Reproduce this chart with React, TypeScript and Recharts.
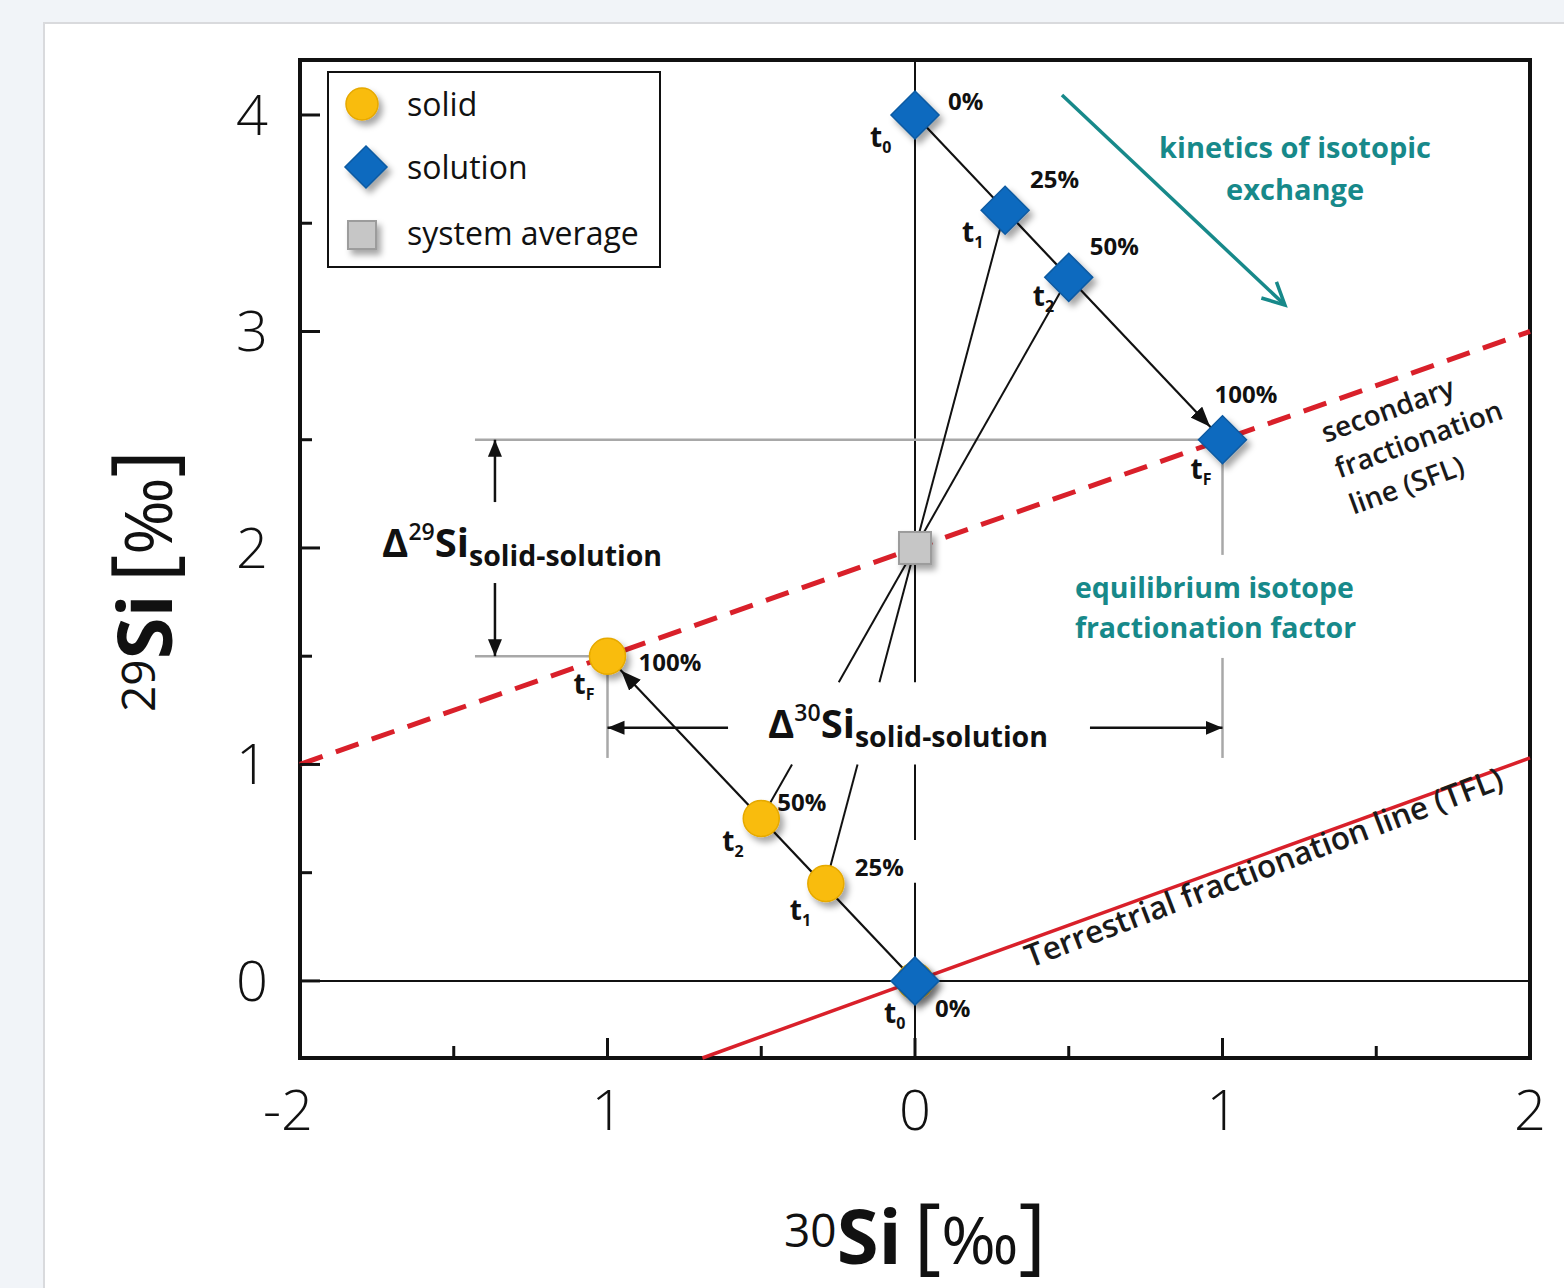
import { ScatterChart, Scatter, XAxis, YAxis, ReferenceLine, ReferenceArea, Legend } from "recharts";

// axis ranges and ticks
const X_DOMAIN: [number, number] = [-2, 2];
const Y_DOMAIN: [number, number] = [-0.356, 4.254];
const xTicks = [-2, -1.5, -1, -0.5, 0, 0.5, 1, 1.5, 2];
const xTickLabels = ["-2", "", "1", "", "0", "", "1", "", "2"];
const yTicks = [0, 0.5, 1, 1.5, 2, 2.5, 3, 3.5, 4];
const yTickLabels = ["0", "", "1", "", "2", "", "3", "", "4"];

// solution (diamonds) and solid (circles) trajectories
const solutionX = [0, 0.293, 0.5, 1.0];
const solutionY = [4.0, 3.56, 3.25, 2.5];
const solidX = [0, -0.29, -0.5, -1.0];
const solidY = [0, 0.45, 0.75, 1.5];
const exchanged = ["0%", "25%", "50%", "100%"];
const timeSteps = ["0", "1", "2", "F"];
const startPoint = [{ x: 0, y: 0, pct: "0%", t: "0", i: 0 }];
const systemAverage = [{ x: 0, y: 2 }];

// fractionation lines
const sflIntercept = 2;
const sflSlope = 0.5;
const tflSlope = 0.515;

const solutionData = solutionX.map((x, i) => ({ x, y: solutionY[i], pct: exchanged[i], t: timeSteps[i], i }));
const solidData = solidX.map((x, i) => ({ x, y: solidY[i], pct: exchanged[i], t: timeSteps[i], i }));

// label offsets (px) from marker centre: [dx, dy] for the % label and the t label
const SOLUTION_LABEL_POS = [
  { pct: [33, -5], t: [-45, 32] },
  { pct: [25, -22], t: [-43, 32] },
  { pct: [21, -22], t: [-36, 29] },
  { pct: [-8, -37], t: [-32, 39] },
];
const SOLID_LABEL_POS = [
  null,
  { pct: [29, -8], t: [-36, 36] },
  { pct: [16, -8], t: [-39, 32] },
  { pct: [31, 15], t: [-34, 38] },
];
const START_LABEL_POS = [{ pct: [20, 36], t: [-31, 42] }];

// annotation anchors in data units
const annotations = [
  { id: "kinetics", x: 1.236, y: 3.801 },
  { id: "equilibrium", x: 0.52, y: 1.769 },
  { id: "sfl", x: 1.639, y: 2.499 },
  { id: "tfl", x: 0.374, y: 0.06 },
  { id: "d29", x: -1.733, y: 1.958 },
  { id: "d30", x: -0.478, y: 1.122 },
];

const FONT = "'Open Sans', 'Noto Sans', sans-serif";
const TEAL = "#17898a";
const RED = "#d9202a";
const BLUE = "#0a6bbf";
const GOLD = "#f9bc0b";
const GRAY = "#a8a8a8";

type P = { x: number; y: number };

// split a segment into pieces, leaving gaps over the given y ranges
function splitSegment(a: P, b: P, gaps: [number, number][]) {
  const cuts = gaps
    .map(([lo, hi]) => {
      const t1 = (lo - a.y) / (b.y - a.y);
      const t2 = (hi - a.y) / (b.y - a.y);
      return [Math.max(0, Math.min(t1, t2)), Math.min(1, Math.max(t1, t2))];
    })
    .filter(([s, e]) => e > s)
    .sort((p, q) => p[0] - q[0]);
  const out: [number, number][] = [];
  let start = 0;
  for (const [s, e] of cuts) {
    if (s > start) out.push([start, s]);
    start = Math.max(start, e);
  }
  if (start < 1) out.push([start, 1]);
  const at = (t: number) => ({ x: a.x + t * (b.x - a.x), y: a.y + t * (b.y - a.y) });
  return out.map(([s, e]) => [at(s), at(e)]);
}

const labelGap: [number, number] = [1.0, 1.38];
const zeroLinePieces = splitSegment({ x: 0, y: Y_DOMAIN[1] }, { x: 0, y: Y_DOMAIN[0] }, [labelGap, [0.453, 0.651]]);
const tieLinePieces = [1, 2].flatMap((i) =>
  splitSegment({ x: solutionX[i], y: solutionY[i] }, { x: solidX[i], y: solidY[i] }, [labelGap])
);
const grayX1Pieces = splitSegment({ x: 1, y: 2.5 }, { x: 1, y: 1.03 }, [[1.492, 1.968]]);

const TimeLabel = ({ x, y, sub }: any) => (
  <text x={x} y={y} fontFamily={FONT} fontWeight={700} fontSize={28} fill="#111">
    t<tspan fontSize={16} dy={6}>{sub}</tspan>
  </text>
);

const PctLabel = ({ x, y, text }: any) => (
  <text x={x} y={y} fontFamily={FONT} fontWeight={700} fontSize={24} fill="#111">
    {text}
  </text>
);

const PointLabels = ({ cx, cy, payload, pos }: any) =>
  pos ? (
    <g>
      <PctLabel x={cx + pos.pct[0]} y={cy + pos.pct[1]} text={payload.pct} />
      <TimeLabel x={cx + pos.t[0]} y={cy + pos.t[1]} sub={payload.t} />
    </g>
  ) : null;

const diamondShape = (labels: any[]) => (p: any) => {
  const { cx, cy, payload } = p;
  const s = 24;
  return (
    <g>
      <path
        d={`M${cx},${cy - s} L${cx + s},${cy} L${cx},${cy + s} L${cx - s},${cy} Z`}
        fill={BLUE}
        stroke="#0b5aa2"
        strokeWidth={1.5}
        filter="url(#dropShadow)"
      />
      <PointLabels cx={cx} cy={cy} payload={payload} pos={labels[payload.i]} />
    </g>
  );
};

const circleShape = (p: any) => {
  const { cx, cy, payload } = p;
  return (
    <g>
      <circle cx={cx} cy={cy} r={18} fill={GOLD} stroke="#e6a900" strokeWidth={1.5} filter="url(#dropShadow)" />
      <PointLabels cx={cx} cy={cy} payload={payload} pos={SOLID_LABEL_POS[payload.i]} />
    </g>
  );
};

const squareShape = (p: any) => (
  <rect x={p.cx - 16} y={p.cy - 16} width={32} height={32} fill="#c6c6c6" stroke="#9c9c9c" strokeWidth={2} filter="url(#dropShadow)" />
);

const annotationShape = (p: any) => {
  const { cx, cy, payload } = p;
  switch (payload.id) {
    case "kinetics":
      return (
        <text x={cx} y={cy} textAnchor="middle" fontFamily={FONT} fontWeight={700} fontSize={29} fill={TEAL}>
          <tspan x={cx}>kinetics of isotopic</tspan>
          <tspan x={cx} dy={42}>exchange</tspan>
        </text>
      );
    case "equilibrium":
      return (
        <text x={cx} y={cy} fontFamily={FONT} fontWeight={700} fontSize={28.5} fill={TEAL}>
          <tspan x={cx}>equilibrium isotope</tspan>
          <tspan x={cx} dy={40}>fractionation factor</tspan>
        </text>
      );
    case "sfl":
      return (
        <text transform={`translate(${cx},${cy}) rotate(-20)`} textAnchor="middle" fontFamily={FONT} fontWeight={600} fontSize={28} fill="#1a1a1a">
          <tspan x={-19} y={-29}>secondary</tspan>
          <tspan x={0} y={9}>fractionation</tspan>
          <tspan x={-27} y={48}>line (SFL)</tspan>
        </text>
      );
    case "tfl":
      return (
        <text transform={`translate(${cx},${cy}) rotate(-20.8)`} fontFamily={FONT} fontWeight={600} fontSize={31.5} fill="#1a1a1a">
          Terrestrial fractionation line (TFL)
        </text>
      );
    case "d29":
    case "d30":
      return (
        <text x={cx} y={cy} fontFamily={FONT} fill="#111">
          <tspan fontSize={40} fontWeight={700}>Δ</tspan>
          <tspan fontSize={23} fontWeight={600} dy={-17}>{payload.id === "d29" ? "29" : "30"}</tspan>
          <tspan fontSize={40} fontWeight={700} dy={17}>Si</tspan>
          <tspan fontSize={28.5} fontWeight={700} dy={9}>solid-solution</tspan>
        </text>
      );
    default:
      return null;
  }
};

const XTick = (p: any) => {
  const v = p.payload.value;
  const i = xTicks.indexOf(v);
  const major = Number.isInteger(v);
  const label = xTickLabels[i];
  return (
    <g>
      <line x1={p.x} y1={p.y} x2={p.x} y2={p.y - (major ? 20 : 12)} stroke="#111" strokeWidth={3} />
      {label && (
        <text x={p.x + (label.startsWith("-") ? -12 : 0)} y={p.y + 72} textAnchor="middle" fontFamily={FONT} fontWeight={300} fontSize={56} fill="#111">
          {label}
        </text>
      )}
    </g>
  );
};

const YTick = (p: any) => {
  const v = p.payload.value;
  const i = yTicks.indexOf(v);
  const major = Number.isInteger(v);
  return (
    <g>
      <line x1={p.x} y1={p.y} x2={p.x + (major ? 20 : 12)} y2={p.y} stroke="#111" strokeWidth={3} />
      {yTickLabels[i] && (
        <text x={p.x - 32} y={p.y + 20} textAnchor="end" fontFamily={FONT} fontWeight={300} fontSize={56} fill="#111">
          {yTickLabels[i]}
        </text>
      )}
    </g>
  );
};

const TitleSpans = ({ sup }: { sup: string }) => (
  <>
    <tspan fontSize={46} dy={-17}>{sup}</tspan>
    <tspan fontSize={76} fontWeight={700} dy={17}>Si</tspan>
    <tspan fontSize={84} dx={12}>[</tspan>
    <tspan fontSize={66}>‰</tspan>
    <tspan fontSize={84}>]</tspan>
  </>
);

const XTitle = (p: any) => {
  const vb = p.viewBox;
  return (
    <text x={vb.x + vb.width / 2} y={vb.y + 206} textAnchor="middle" fontFamily={FONT} fill="#111">
      <TitleSpans sup="30" />
    </text>
  );
};

const YTitle = (p: any) => {
  const vb = p.viewBox;
  const cy = vb.y + vb.height / 2 + 22;
  return (
    <text transform={`translate(172,${cy}) rotate(-90)`} textAnchor="middle" fontFamily={FONT} fill="#111">
      <TitleSpans sup="29" />
    </text>
  );
};

const renderLegend = () => (
  <svg width={334} height={197} style={{ display: "block" }}>
    <rect x={1} y={1} width={332} height={195} fill="#fff" stroke="#111" strokeWidth={2} />
    <circle cx={35} cy={33} r={16} fill={GOLD} stroke="#e6a900" strokeWidth={1.5} filter="url(#dropShadow)" />
    <path d="M39,75 L60,96 L39,117 L18,96 Z" fill={BLUE} stroke="#0b5aa2" strokeWidth={1.5} filter="url(#dropShadow)" />
    <rect x={21} y={150} width={28} height={28} fill="#c6c6c6" stroke="#9c9c9c" strokeWidth={2} filter="url(#dropShadow)" />
    <text fontFamily={FONT} fontSize={32} fill="#111">
      <tspan x={80} y={45}>solid</tspan>
      <tspan x={80} y={108}>solution</tspan>
      <tspan x={80} y={174}>system average</tspan>
    </text>
  </svg>
);

const arrowLine = (marker: string, color: string, width: number) => (p: any) => (
  <line x1={p.x1} y1={p.y1} x2={p.x2} y2={p.y2} stroke={color} strokeWidth={width} markerEnd={`url(#${marker})`} />
);

export default function App() {
  const sol0 = solutionData[0];
  const solN = solutionData[solutionData.length - 1];
  const sd0 = solidData[0];
  const sdN = solidData[solidData.length - 1];
  return (
    <div style={{ position: "absolute", left: 0, top: 0, width: 1564, height: 1288, background: "#f1f4f8", overflow: "hidden" }}>
      <div style={{ position: "absolute", left: 43, top: 22, width: 1600, height: 1400, background: "#fff", border: "2px solid #d9dadd", boxSizing: "border-box" }} />
      <svg width={0} height={0} style={{ position: "absolute" }}>
        <defs>
          <filter id="dropShadow" x="-60%" y="-60%" width="220%" height="220%">
            <feDropShadow dx={4} dy={5} stdDeviation={3} floodColor="#000" floodOpacity={0.35} />
          </filter>
          <marker id="arrowDiamond" markerUnits="userSpaceOnUse" markerWidth={60} markerHeight={18} refX={38} refY={8} orient="auto">
            <path d="M0,0 L20,8 L0,16 Z" fill="#111" />
          </marker>
          <marker id="arrowCircle" markerUnits="userSpaceOnUse" markerWidth={60} markerHeight={18} refX={40} refY={8} orient="auto">
            <path d="M0,0 L20,8 L0,16 Z" fill="#111" />
          </marker>
          <marker id="arrowTip" markerUnits="userSpaceOnUse" markerWidth={20} markerHeight={16} refX={17} refY={7} orient="auto">
            <path d="M0,0 L17,7 L0,14 Z" fill="#111" />
          </marker>
          <marker id="arrowTeal" markerUnits="userSpaceOnUse" markerWidth={30} markerHeight={30} refX={24} refY={13} orient="auto">
            <path d="M2,2 L24,13 L2,24" fill="none" stroke={TEAL} strokeWidth={3.5} strokeLinejoin="miter" />
          </marker>
        </defs>
      </svg>
      <div style={{ position: "absolute", left: 0, top: 0 }}>
        <ScatterChart width={1564} height={1288} margin={{ top: 60, right: 34, bottom: 170, left: 220 }}>
          <XAxis
            type="number"
            dataKey="x"
            domain={X_DOMAIN}
            ticks={xTicks}
            interval={0}
            allowDataOverflow
            axisLine={false}
            tickLine={false}
            tickSize={0}
            tickMargin={0}
            height={60}
            tick={(p: any) => <XTick {...p} />}
            label={{ content: (p: any) => <XTitle {...p} /> }}
          />
          <YAxis
            type="number"
            dataKey="y"
            domain={Y_DOMAIN}
            ticks={yTicks}
            interval={0}
            allowDataOverflow
            axisLine={false}
            tickLine={false}
            tickSize={0}
            tickMargin={0}
            width={80}
            tick={(p: any) => <YTick {...p} />}
            label={{ content: (p: any) => <YTitle {...p} /> }}
          />
          <Legend
            layout="vertical"
            align="center"
            verticalAlign="middle"
            content={renderLegend}
            wrapperStyle={{ left: 327, top: 71, width: 334, height: 197 }}
          />

          {/* zero lines */}
          <ReferenceLine segment={[{ x: X_DOMAIN[0], y: 0 }, { x: X_DOMAIN[1], y: 0 }]} stroke="#111" strokeWidth={2} />
          {zeroLinePieces.map((s, k) => (
            <ReferenceLine key={`z${k}`} segment={s} stroke="#111" strokeWidth={2} />
          ))}

          {/* gray guide lines */}
          <ReferenceLine segment={[{ x: -1.431, y: solN.y }, { x: solN.x, y: solN.y }]} stroke={GRAY} strokeWidth={2.5} />
          <ReferenceLine segment={[{ x: -1.431, y: sdN.y }, { x: sdN.x, y: sdN.y }]} stroke={GRAY} strokeWidth={2.5} />
          {grayX1Pieces.map((s, k) => (
            <ReferenceLine key={`g${k}`} segment={s} stroke={GRAY} strokeWidth={2.5} />
          ))}
          <ReferenceLine segment={[{ x: sdN.x, y: sdN.y }, { x: sdN.x, y: 1.03 }]} stroke={GRAY} strokeWidth={2.5} />

          {/* fractionation lines */}
          <ReferenceLine
            segment={[{ x: X_DOMAIN[0], y: sflIntercept + sflSlope * X_DOMAIN[0] }, { x: X_DOMAIN[1], y: sflIntercept + sflSlope * X_DOMAIN[1] }]}
            stroke={RED}
            strokeWidth={5}
            strokeDasharray="24 14"
          />
          <ReferenceLine
            segment={[{ x: Y_DOMAIN[0] / tflSlope, y: Y_DOMAIN[0] }, { x: X_DOMAIN[1], y: tflSlope * X_DOMAIN[1] }]}
            stroke={RED}
            strokeWidth={3.5}
          />

          {/* tie lines through the system average */}
          {tieLinePieces.map((s, k) => (
            <ReferenceLine key={`t${k}`} segment={s} stroke="#111" strokeWidth={2} />
          ))}

          {/* trajectories */}
          <ReferenceLine segment={[{ x: sol0.x, y: sol0.y }, { x: solN.x, y: solN.y }]} stroke="#111" strokeWidth={2.2} shape={arrowLine("arrowDiamond", "#111", 2.2)} />
          <ReferenceLine segment={[{ x: sd0.x, y: sd0.y }, { x: sdN.x, y: sdN.y }]} stroke="#111" strokeWidth={2.2} shape={arrowLine("arrowCircle", "#111", 2.2)} />

          {/* delta arrows */}
          <ReferenceLine segment={[{ x: -1.366, y: 2.212 }, { x: -1.366, y: solN.y }]} shape={arrowLine("arrowTip", "#111", 2.5)} />
          <ReferenceLine segment={[{ x: -1.366, y: 1.838 }, { x: -1.366, y: sdN.y }]} shape={arrowLine("arrowTip", "#111", 2.5)} />
          <ReferenceLine segment={[{ x: -0.608, y: 1.169 }, { x: sdN.x, y: 1.169 }]} shape={arrowLine("arrowTip", "#111", 2.5)} />
          <ReferenceLine segment={[{ x: 0.569, y: 1.169 }, { x: solN.x, y: 1.169 }]} shape={arrowLine("arrowTip", "#111", 2.5)} />

          {/* kinetics arrow */}
          <ReferenceLine segment={[{ x: 0.478, y: 4.092 }, { x: 1.203, y: 3.122 }]} shape={arrowLine("arrowTeal", TEAL, 3.5)} />

          {/* plot frame */}
          <ReferenceArea x1={X_DOMAIN[0]} x2={X_DOMAIN[1]} y1={Y_DOMAIN[0]} y2={Y_DOMAIN[1]} fill="none" fillOpacity={0} stroke="#111" strokeWidth={4} />

          <Scatter data={solidData} shape={circleShape} isAnimationActive={false} />
          <Scatter data={startPoint} shape={diamondShape(START_LABEL_POS)} isAnimationActive={false} />
          <Scatter data={solutionData} shape={diamondShape(SOLUTION_LABEL_POS)} isAnimationActive={false} />
          <Scatter data={systemAverage} shape={squareShape} isAnimationActive={false} />
          <Scatter data={annotations} shape={annotationShape} isAnimationActive={false} />
        </ScatterChart>
      </div>
    </div>
  );
}
